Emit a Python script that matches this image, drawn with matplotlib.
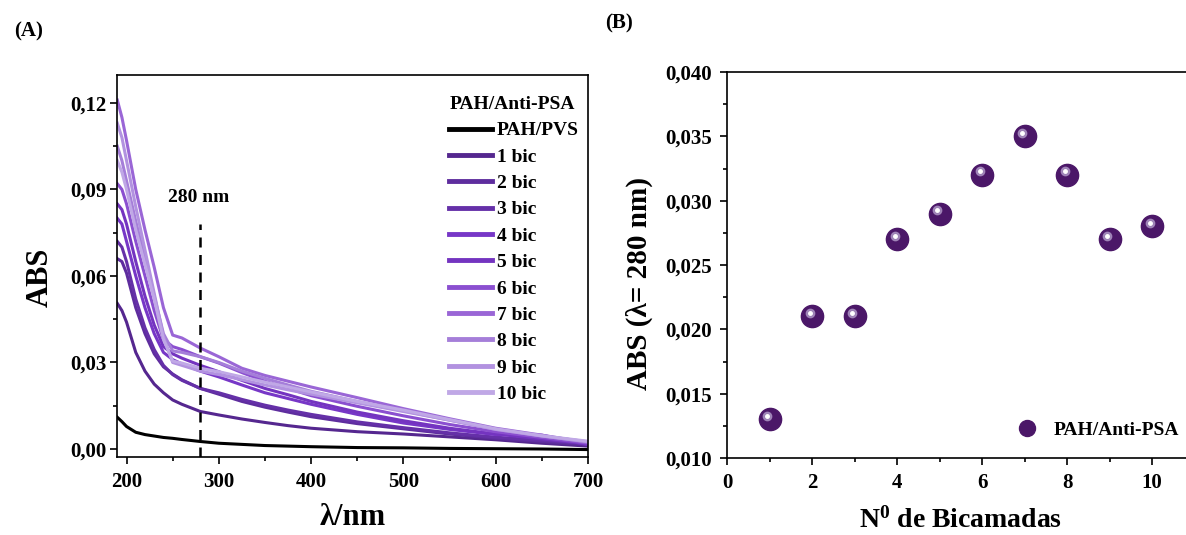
#UV-vis spectra of PAH/Anti-PSA films and absorbance at 280 nm vs number of bilayers

import matplotlib.pyplot as plt
import matplotlib.transforms as mtransforms
from matplotlib.ticker import MultipleLocator, FuncFormatter

plt.rcParams['font.family'] = 'Liberation Serif'
plt.rcParams['font.weight'] = 'bold'
plt.rcParams['axes.labelweight'] = 'bold'
plt.rcParams['mathtext.fontset'] = 'custom'
plt.rcParams['mathtext.rm'] = 'Liberation Serif:bold'
plt.rcParams['mathtext.bf'] = 'Liberation Serif:bold'
plt.rcParams['mathtext.it'] = 'Liberation Serif:bold'

#wavelength grid (nm)
wavelength = [190, 195, 200, 210, 220, 230, 240, 250, 260, 280, 300,
              325, 350, 375, 400, 450, 500, 550, 600, 650, 700]

abs_pvs = [0.0110, 0.0095, 0.0078, 0.0058, 0.0050, 0.0045, 0.0040, 0.0037, 0.0033, 0.0026, 0.0020,
           0.0016, 0.0012, 0.0010, 0.0008, 0.0005, 0.0004, 0.0002, 0.0001, 0.0000, -0.0002]
abs_1 = [0.0505, 0.0480, 0.0440, 0.0335, 0.0270, 0.0225, 0.0195, 0.0170, 0.0155, 0.0130, 0.0118,
         0.0104, 0.0092, 0.0081, 0.0072, 0.0060, 0.0052, 0.0042, 0.0032, 0.0020, 0.0010]
abs_2 = [0.0660, 0.0650, 0.0610, 0.0490, 0.0400, 0.0330, 0.0285, 0.0260, 0.0240, 0.0210, 0.0190,
         0.0165, 0.0145, 0.0128, 0.0112, 0.0088, 0.0070, 0.0052, 0.0037, 0.0026, 0.0015]
abs_3 = [0.0720, 0.0700, 0.0650, 0.0520, 0.0420, 0.0345, 0.0290, 0.0258, 0.0238, 0.0210, 0.0195,
         0.0172, 0.0152, 0.0135, 0.0120, 0.0094, 0.0074, 0.0056, 0.0041, 0.0030, 0.0018]
abs_4 = [0.0800, 0.0780, 0.0720, 0.0600, 0.0490, 0.0400, 0.0335, 0.0310, 0.0295, 0.0270, 0.0250,
         0.0222, 0.0195, 0.0175, 0.0155, 0.0120, 0.0090, 0.0068, 0.0050, 0.0048, 0.0015]
abs_5 = [0.0850, 0.0830, 0.0780, 0.0650, 0.0530, 0.0430, 0.0355, 0.0330, 0.0315, 0.0290, 0.0268,
         0.0238, 0.0210, 0.0188, 0.0165, 0.0128, 0.0098, 0.0072, 0.0052, 0.0035, 0.0018]
abs_6 = [0.0920, 0.0900, 0.0850, 0.0720, 0.0600, 0.0480, 0.0380, 0.0355, 0.0345, 0.0320, 0.0298,
         0.0265, 0.0235, 0.0210, 0.0185, 0.0148, 0.0115, 0.0085, 0.0060, 0.0040, 0.0020]
abs_7 = [0.1210, 0.1150, 0.1070, 0.0900, 0.0760, 0.0630, 0.0490, 0.0395, 0.0385, 0.0350, 0.0320,
         0.0280, 0.0255, 0.0235, 0.0215, 0.0178, 0.0140, 0.0105, 0.0072, 0.0048, 0.0022]
abs_8 = [0.1050, 0.1000, 0.0930, 0.0790, 0.0660, 0.0530, 0.0400, 0.0340, 0.0335, 0.0320, 0.0300,
         0.0270, 0.0245, 0.0222, 0.0200, 0.0165, 0.0132, 0.0100, 0.0068, 0.0045, 0.0025]
abs_9 = [0.1130, 0.1080, 0.1000, 0.0840, 0.0690, 0.0540, 0.0390, 0.0300, 0.0290, 0.0270, 0.0258,
         0.0240, 0.0222, 0.0205, 0.0190, 0.0160, 0.0130, 0.0100, 0.0068, 0.0045, 0.0025]
abs_10 = [0.1000, 0.0960, 0.0900, 0.0760, 0.0640, 0.0520, 0.0380, 0.0305, 0.0298, 0.0280, 0.0268,
          0.0250, 0.0232, 0.0215, 0.0198, 0.0165, 0.0135, 0.0102, 0.0070, 0.0046, 0.0027]

spectra = [abs_pvs, abs_1, abs_2, abs_3, abs_4, abs_5, abs_6, abs_7, abs_8, abs_9, abs_10]
spectra_labels = ["PAH/PVS", "1 bic", "2 bic", "3 bic", "4 bic", "5 bic",
                  "6 bic", "7 bic", "8 bic", "9 bic", "10 bic"]
spectra_colors = ["#000000", "#55278f", "#5e2d9e", "#6530a8", "#7737c7", "#7434c0",
                  "#8b4fd0", "#9a66d6", "#a57ed9", "#b292e0", "#c0a8e6"]

#panel B: absorbance at 280 nm
bilayers = [1, 2, 3, 4, 5, 6, 7, 8, 9, 10]
abs_280 = [0.013, 0.021, 0.021, 0.027, 0.029, 0.032, 0.035, 0.032, 0.027, 0.028]


def comma_fmt(decimals):
	return FuncFormatter(lambda v, p: f"{v:.{decimals}f}".replace('.', ','))


def style_axes(ax, ypad):
	ax.tick_params(which='both', direction='out', top=False, right=False, labelsize=15, width=1.2)
	ax.tick_params(which='major', length=5)
	ax.tick_params(axis='x', which='major', pad=6)
	ax.tick_params(axis='y', which='major', pad=ypad)
	ax.tick_params(which='minor', length=3)
	for s in ax.spines.values():
		s.set_linewidth(1.2)


fig = plt.figure(figsize=(11.86, 5.35), dpi=100)

# ---- panel A
axA = fig.add_axes([0.0989, 0.1462, 0.3969, 0.7142])
for y, lab, col in zip(spectra, spectra_labels, spectra_colors):
	axA.plot(wavelength, y, color=col, lw=2.2, label=lab)

axA.plot([280, 280], [-0.0027, 0.078], color='black', lw=1.8, ls=(0, (4, 3)))
axA.text(278, 0.0871, "280 nm", fontsize=14, ha='center', va='center')

axA.set_xlim(190, 700)
axA.set_ylim(-0.0027, 0.1298)
axA.xaxis.set_major_locator(MultipleLocator(100))
axA.xaxis.set_minor_locator(MultipleLocator(50))
axA.yaxis.set_major_locator(MultipleLocator(0.03))
axA.yaxis.set_minor_locator(MultipleLocator(0.015))
axA.yaxis.set_major_formatter(comma_fmt(2))
style_axes(axA, 3)

axA.set_ylabel("ABS", fontsize=22)
axA.yaxis.set_label_coords(-0.132, 0.47)
axA.set_xlabel("λ/nm", fontsize=22, labelpad=8)

leg = axA.legend(title="PAH/Anti-PSA", loc='upper right', bbox_to_anchor=(1.018, 0.99),
                 frameon=False, fontsize=14, title_fontsize=14, handlelength=2.2,
                 handletextpad=0.25, labelspacing=0.45, alignment='left')
for h in leg.get_lines():
	h.set_linewidth(3.5)

fig.text(0.024, 0.942, "(A)", fontsize=15, ha='center', va='center')

# ---- panel B
axB = fig.add_axes([0.613, 0.1439, 0.3942, 0.7215])
base, = axB.plot(bilayers, abs_280, ls='none', marker='o', ms=16, color='#4b1768',
                 label="PAH/Anti-PSA")
glow_tr = mtransforms.offset_copy(axB.transData, fig=fig, x=-2.5, y=3.5, units='dots')
axB.plot(bilayers, abs_280, ls='none', marker='o', ms=6, color='#a58bbd', alpha=0.9,
         transform=glow_tr)
axB.plot(bilayers, abs_280, ls='none', marker='o', ms=2.5, color='white', transform=glow_tr)

axB.set_xlim(0, 11)
axB.set_ylim(0.010, 0.040)
axB.xaxis.set_major_locator(MultipleLocator(2))
axB.xaxis.set_minor_locator(MultipleLocator(1))
axB.yaxis.set_major_locator(MultipleLocator(0.005))
axB.yaxis.set_minor_locator(MultipleLocator(0.0025))
axB.yaxis.set_major_formatter(comma_fmt(3))
style_axes(axB, 6)
axB.spines['right'].set_visible(False)

axB.set_ylabel("ABS (λ= 280 nm)", fontsize=21)
axB.yaxis.set_label_coords(-0.158, 0.453)
axB.set_xlabel("N$^{0}$ de Bicamadas", fontsize=20, labelpad=10)

legB = axB.legend(handles=[base], loc='lower right', bbox_to_anchor=(1.005, 0.005),
                  frameon=False, fontsize=14, markerscale=0.72, handletextpad=0.4)

fig.text(0.522, 0.957, "(B)", fontsize=15, ha='center', va='center')

plt.savefig("out.png", dpi=100)
